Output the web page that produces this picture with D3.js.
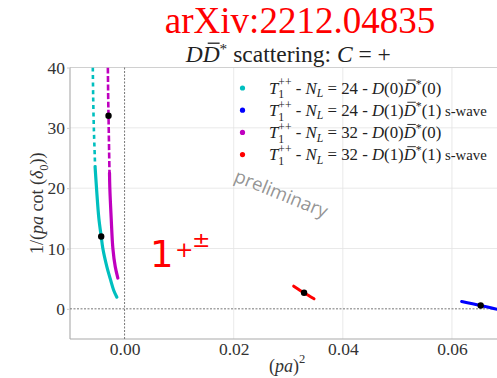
<!DOCTYPE html>
<html><head><meta charset="utf-8">
<script src="https://cdn.jsdelivr.net/npm/d3@7"></script>
<style>
html,body{margin:0;padding:0;background:#fff;}
svg text{white-space:pre;}
</style></head>
<body>
<svg id="c" width="497" height="378"></svg>
<script>
// ---- data ----
const xTicks = [0.00, 0.02, 0.04, 0.06];
const xTickLabels = ["0.00", "0.02", "0.04", "0.06"];
const yTicks = [0, 10, 20, 30, 40];
const yTickLabels = ["0", "10", "20", "30", "40"];

// N_L = 24 - D(0)D*(0) (cyan)
const cyanUpper = [[-0.00582,40],[-0.00575,35],[-0.00563,30],[-0.00545,25],[-0.00540,23.5]];
const cyanLower = [[-0.00540,23.5],[-0.00514,20],[-0.00471,15],[-0.00428,12],[-0.00398,10],[-0.00325,7],[-0.00263,5],[-0.00196,3],[-0.00141,1.93]];
// N_L = 32 - D(0)D*(0) (magenta)
const magUpper = [[-0.00306,40],[-0.00300,35],[-0.00294,32],[-0.00283,26],[-0.00276,22.5]];
const magLower = [[-0.00276,22.5],[-0.00270,20],[-0.00245,15],[-0.00214,10],[-0.00171,7],[-0.00123,5.1]];
// N_L = 32 - D(1)D*(1) s-wave (red)
const redSeg = [[0.0310,3.76],[0.0329,2.66],[0.03473,1.66]];
// N_L = 24 - D(1)D*(1) s-wave (blue)
const blueSeg = [[0.06178,1.21],[0.06527,0.55],[0.0700,-0.45]];
// black points
const blackPts = [[-0.00428,12.0],[-0.00294,32.0],[0.0329,2.66],[0.06527,0.55]];

const legendLabels = [
  {n:"24", d:"(0)", s:"(0)", wave:""},
  {n:"24", d:"(1)", s:"(1)", wave:" s-wave"},
  {n:"32", d:"(0)", s:"(0)", wave:""},
  {n:"32", d:"(1)", s:"(1)", wave:" s-wave"}
];
const colors = ["#00bfbf", "#0000ff", "#bf00bf", "#ff0000"];

// ---- layout ----
const svg = d3.select("#c");
const L = 70, R = 506.5, T = 67.5, B = 339;
const x = d3.scaleLinear().domain([-0.01, 0.07]).range([L, R]);
const y = d3.scaleLinear().domain([-5, 40]).range([B, T]);
const SERIF = "'Liberation Serif', 'DejaVu Serif', serif";

svg.append("defs").append("clipPath").attr("id","clip")
  .append("rect").attr("x",L).attr("y",T).attr("width",R-L).attr("height",B-T);

// rich text helper
function rich(g, x0, y0, segs, fs, color) {
  let cx = x0, prevStart = x0;
  segs.forEach(s => {
    const start = (s.stack ? prevStart : cx) + (s.dx || 0);
    const size = fs * (s.fs || 1);
    const t = g.append("text").attr("x", start).attr("y", y0 + (s.dy || 0) * fs / 14)
      .style("font-family", SERIF).attr("font-size", size)
      .attr("font-style", s.it ? "italic" : "normal")
      .attr("fill", color || "#222").text(s.t);
    const w = t.node().getComputedTextLength();
    if (s.bar) {
      g.append("line").attr("x1", start + w*0.3).attr("x2", start + w*1.0)
        .attr("y1", y0 - size*0.8).attr("y2", y0 - size*0.8)
        .attr("stroke", color || "#222").attr("stroke-width", Math.max(0.8, size/18));
    }
    cx = s.stack ? Math.max(cx, start + w) : start + w;
    prevStart = start;
  });
  return cx - x0;
}

// grid
const grid = svg.append("g");
grid.selectAll(".gx").data(xTicks.filter(v => v !== 0)).join("line")
  .attr("x1", d => x(d)).attr("x2", d => x(d)).attr("y1", T).attr("y2", B)
  .attr("stroke", "#e3e3e3").attr("stroke-width", 0.8);
grid.selectAll(".gy").data(yTicks.filter(v => v !== 0)).join("line")
  .attr("x1", L).attr("x2", R).attr("y1", d => y(d)).attr("y2", d => y(d))
  .attr("stroke", "#e3e3e3").attr("stroke-width", 0.8);

// spines
svg.append("line").attr("x1",L).attr("x2",R).attr("y1",T).attr("y2",T).attr("stroke","#d0d0d0").attr("stroke-width",1);
svg.append("line").attr("x1",L).attr("x2",L).attr("y1",T).attr("y2",B).attr("stroke","#aaa").attr("stroke-width",1.1);
svg.append("line").attr("x1",L).attr("x2",R).attr("y1",B).attr("y2",B).attr("stroke","#aaa").attr("stroke-width",1.1);

// zero lines
svg.append("line").attr("x1",x(0)).attr("x2",x(0)).attr("y1",T).attr("y2",B)
  .attr("stroke","#777").attr("stroke-width",1).attr("stroke-dasharray","2,1.5");
svg.append("line").attr("x1",L).attr("x2",R).attr("y1",y(0)).attr("y2",y(0))
  .attr("stroke","#777").attr("stroke-width",1).attr("stroke-dasharray","2,1.5");

// axes (d3 axes for ticks/labels)
const xAxis = svg.append("g").attr("transform", `translate(0,${B})`)
  .call(d3.axisBottom(x).tickValues(xTicks).tickFormat((d,i) => xTickLabels[i]).tickSize(0).tickPadding(4));
const yAxis = svg.append("g").attr("transform", `translate(${L},0)`)
  .call(d3.axisLeft(y).tickValues(yTicks).tickFormat((d,i) => yTickLabels[i]).tickSize(3).tickPadding(2));
[xAxis, yAxis].forEach(a => {
  a.attr("font-family", null).attr("font-size", null);
  a.select(".domain").remove();
  a.selectAll(".tick line").attr("stroke", "#ccc");
  a.selectAll("text").style("font-family", SERIF).style("font-size", "17.5px").attr("fill", "#333");
});

// curves
const plot = svg.append("g").attr("clip-path", "url(#clip)");
const line = d3.line().x(d => x(d[0])).y(d => y(d[1])).curve(d3.curveCatmullRom);
plot.append("path").datum(cyanUpper).attr("d", line).attr("fill","none")
  .attr("stroke", colors[0]).attr("stroke-width", 2.6).attr("stroke-dasharray","4,3.5");
plot.append("path").datum(cyanLower).attr("d", line).attr("fill","none")
  .attr("stroke", colors[0]).attr("stroke-width", 3.2).attr("stroke-linecap","round");
plot.append("path").datum(magUpper).attr("d", line).attr("fill","none")
  .attr("stroke", colors[2]).attr("stroke-width", 2.6).attr("stroke-dasharray","6,2.5");
plot.append("path").datum(magLower).attr("d", line).attr("fill","none")
  .attr("stroke", colors[2]).attr("stroke-width", 3.2).attr("stroke-linecap","round");
plot.append("path").datum(redSeg).attr("d", line).attr("fill","none")
  .attr("stroke", colors[3]).attr("stroke-width", 3).attr("stroke-linecap","round");
plot.append("path").datum(blueSeg).attr("d", line).attr("fill","none")
  .attr("stroke", colors[1]).attr("stroke-width", 3).attr("stroke-linecap","round");
plot.selectAll(".bp").data(blackPts).join("circle")
  .attr("cx", d => x(d[0])).attr("cy", d => y(d[1])).attr("r", 3.2).attr("fill", "#000");

// legend
const lg = svg.append("g");
legendLabels.forEach((lab, i) => {
  const yy = 88 + i * 22.2;
  lg.append("circle").attr("cx", 242.5).attr("cy", yy).attr("r", 2.6).attr("fill", colors[i]);
  const segs = [
    {t:"T", it:true}, {t:"++", fs:0.7, dy:-6}, {t:"1", fs:0.7, dy:4, stack:true},
    {t:" - "}, {t:"N", it:true}, {t:"L", it:true, fs:0.7, dy:3},
    {t:" = " + lab.n + " - "}, {t:"D", it:true}, {t:lab.d}, {t:"D", it:true, bar:true},
    {t:"*", fs:0.7, dy:-5}, {t:lab.s}
  ];
  if (lab.wave) segs.push({t:lab.wave, fs:0.88});
  rich(lg, 269, yy + 5.5, segs, 16.8, "#222");
});

// title
const tg = svg.append("g");
const titleSegs = [{t:"D", it:true}, {t:"D", it:true, bar:true}, {t:"*", fs:0.65, dy:-5},
  {t:" scattering: "}, {t:"C", it:true}, {t:" = +"}];
const tw = rich(tg, 0, 62, titleSegs, 23.5, "#222");
tg.attr("transform", `translate(${(L+R)/2 - tw/2},0)`);

// arXiv
svg.append("text").attr("x", 300).attr("y", 33).attr("text-anchor","middle")
  .style("font-family", SERIF).attr("font-size", 37).attr("fill", "#ff0000").text("arXiv:2212.04835");

// x label
const xg = svg.append("g");
const xw = rich(xg, 0, 372, [{t:"("},{t:"pa", it:true},{t:")"},{t:"2", fs:0.7, dy:-7}], 18, "#333");
xg.attr("transform", `translate(${(L+R)/2 - xw/2 - 1},0)`);

// y label
const yg = svg.append("g");
const yin = yg.append("g");
const yw = rich(yin, 0, 0, [{t:"1/("},{t:"pa", it:true},{t:" cot ("},{t:"δ", it:true},{t:"0", fs:0.7, dy:4},{t:"))"}], 18, "#333");
yg.attr("transform", `translate(43,${(T+B)/2 + yw/2}) rotate(-90)`);

// preliminary
svg.append("text").attr("transform", "translate(233,181) rotate(22)")
  .attr("font-family", "'Open Sans', 'DejaVu Sans', sans-serif").attr("font-size", 18.5)
  .attr("fill", "#888").attr("fill-opacity", 0.9).text("preliminary");

// 1+±
const og = svg.append("g");
og.append("text").attr("x", 150).attr("y", 267).attr("font-family","'DejaVu Sans', sans-serif")
  .attr("font-size", 37).attr("fill", "#ff0000").text("1");
og.append("text").attr("x", 175).attr("y", 257).attr("font-family","'DejaVu Sans', sans-serif")
  .attr("font-size", 22).attr("fill", "#ff0000").text("+");
og.append("text").attr("x", 192).attr("y", 247).attr("font-family","'DejaVu Sans', sans-serif")
  .attr("font-size", 22).attr("fill", "#ff0000").text("±");
</script>
</body></html>
